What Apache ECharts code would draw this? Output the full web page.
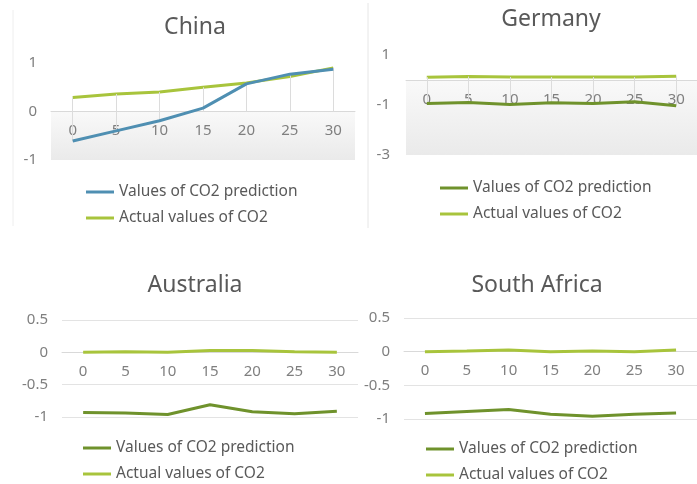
<!DOCTYPE html>
<html>
<head>
<meta charset="utf-8">
<script src="https://cdn.jsdelivr.net/npm/echarts@6/dist/echarts.min.js"></script>
<style>html,body{margin:0;padding:0;background:#fff;}#c{width:697px;height:484px;}</style>
</head>
<body>
<div id="c"></div>
<script>
const categories = ['0','5','10','15','20','25','30'];
const chinaPred   = [-0.61, -0.40, -0.19, 0.07, 0.57, 0.77, 0.87];
const chinaActual = [0.29, 0.36, 0.40, 0.50, 0.59, 0.72, 0.90];
const germanyPred   = [-0.94, -0.90, -0.98, -0.91, -0.94, -0.87, -1.03];
const germanyActual = [0.11, 0.14, 0.12, 0.12, 0.12, 0.12, 0.15];
const australiaPred   = [-0.93, -0.94, -0.96, -0.81, -0.92, -0.95, -0.91];
const australiaActual = [0.00, 0.01, 0.00, 0.03, 0.03, 0.01, 0.00];
const safricaPred   = [-0.92, -0.89, -0.86, -0.93, -0.96, -0.93, -0.91];
const safricaActual = [0.00, 0.01, 0.025, 0.00, 0.01, 0.00, 0.025];
const titles = ['China', 'Germany', 'Australia', 'South Africa'];
const predName = 'Values of CO2 prediction';
const actName = 'Actual values of CO2';

const BLUE = '#4f8fb2', LIGHT = '#a8c43c', DARK = '#6f922c';
const FONT = '"Noto Sans", "Open Sans", sans-serif';

const grids = [
  {left: 51, top: 63, width: 304, height: 97},
  {left: 406, top: 55, width: 304, height: 100},
  {left: 62, top: 320, width: 296, height: 97},
  {left: 404, top: 318, width: 294, height: 101}
];
const yCfg = [
  {min: -1, max: 1, interval: 1, split: false},
  {min: -3, max: 1, interval: 2, split: false},
  {min: -1, max: 0.5, interval: 0.5, split: true},
  {min: -1, max: 0.5, interval: 0.5, split: true}
];
const data = [
  [chinaPred, chinaActual, BLUE],
  [germanyPred, germanyActual, DARK],
  [australiaPred, australiaActual, DARK],
  [safricaPred, safricaActual, DARK]
];
const titlePos = [[190, 11], [546, 3], [190, 269], [532, 269]];
const legendPos = [[86, 184], [440, 180], [83, 440], [426, 441]];

function dropLines(a, b) {
  return categories.map((c, i) => {
    const hi = Math.max(a[i], b[i], 0), lo = Math.min(a[i], b[i], 0);
    return [{coord: [c, hi]}, {coord: [c, lo]}];
  });
}

const option = {
  animation: false,
  backgroundColor: '#fff',
  textStyle: {fontFamily: FONT},
  title: titles.map((t, i) => ({
    text: t, left: titlePos[i][0], top: titlePos[i][1], textAlign: 'center',
    textStyle: {fontFamily: FONT, fontSize: 23, fontWeight: 'normal', color: '#595959'}
  })),
  grid: grids,
  xAxis: grids.map((g, i) => ({
    type: 'category', gridIndex: i, data: categories, boundaryGap: true,
    position: 'bottom', z: 3,
    // place the category axis at value 0 of its value axis
    offset: -g.height * (0 - yCfg[i].min) / (yCfg[i].max - yCfg[i].min),
    axisLine: {onZero: false, lineStyle: {color: '#d9d9d9', width: 1}},
    axisTick: {show: false},
    axisLabel: {color: '#7f7f7f', fontSize: 15, fontFamily: FONT, margin: 12},
    splitLine: {show: false}
  })),
  yAxis: yCfg.map((y, i) => ({
    type: 'value', gridIndex: i, min: y.min, max: y.max, interval: y.interval,
    axisLine: {show: false}, axisTick: {show: false},
    axisLabel: {color: '#7f7f7f', fontSize: 15, fontFamily: FONT, margin: i === 1 ? 16 : 14},
    splitLine: {show: y.split, lineStyle: {color: '#e3e3e3', width: 1}}
  })),
  legend: data.map((d, i) => ({
    orient: 'vertical', left: legendPos[i][0], top: legendPos[i][1],
    padding: 0, width: 300, height: 60,
    icon: 'rect', itemWidth: 28, itemHeight: 3, itemGap: 10,
    textStyle: {color: '#595959', fontSize: 15.5, fontFamily: FONT, lineHeight: 16},
    data: [
      {name: predName, itemStyle: {color: d[2]}},
      {name: actName, itemStyle: {color: LIGHT}}
    ],
    selectedMode: false
  })),
  series: []
};

data.forEach((d, i) => {
  if (i < 2) {
    option.series.push({
      type: 'line', xAxisIndex: i, yAxisIndex: i, data: [], z: 1, silent: true,
      markArea: {
        silent: true,
        itemStyle: {color: {type: 'linear', x: 0, y: 0, x2: 0, y2: 1,
          colorStops: [{offset: 0, color: '#f9f9f9'}, {offset: 1, color: '#eaeaea'}]}},
        data: [[{yAxis: 0}, {yAxis: yCfg[i].min}]]
      },
      markLine: {
        silent: true, symbol: 'none', label: {show: false},
        lineStyle: {color: '#dcdcdc', width: 1, type: 'solid'},
        data: dropLines(d[0], d[1])
      }
    });
  }
  option.series.push({
    name: actName, type: 'line', xAxisIndex: i, yAxisIndex: i,
    data: d[1], showSymbol: false, smooth: false,
    lineStyle: {color: LIGHT, width: 3}, itemStyle: {color: LIGHT}, z: 4
  });
  option.series.push({
    name: predName, type: 'line', xAxisIndex: i, yAxisIndex: i,
    data: d[0], showSymbol: false, smooth: false,
    lineStyle: {color: d[2], width: 3}, itemStyle: {color: d[2]}, z: 5
  });
});

option.graphic = [
  {type: 'line', shape: {x1: 368, y1: 3, x2: 368, y2: 228}, style: {stroke: '#e6e6e6', lineWidth: 1}, silent: true},
  {type: 'line', shape: {x1: 13, y1: 10, x2: 13, y2: 226}, style: {stroke: '#eeeeee', lineWidth: 1}, silent: true}
];

const chart = echarts.init(document.getElementById('c'), null, {renderer: 'canvas'});
chart.setOption(option);
</script>
</body>
</html>
